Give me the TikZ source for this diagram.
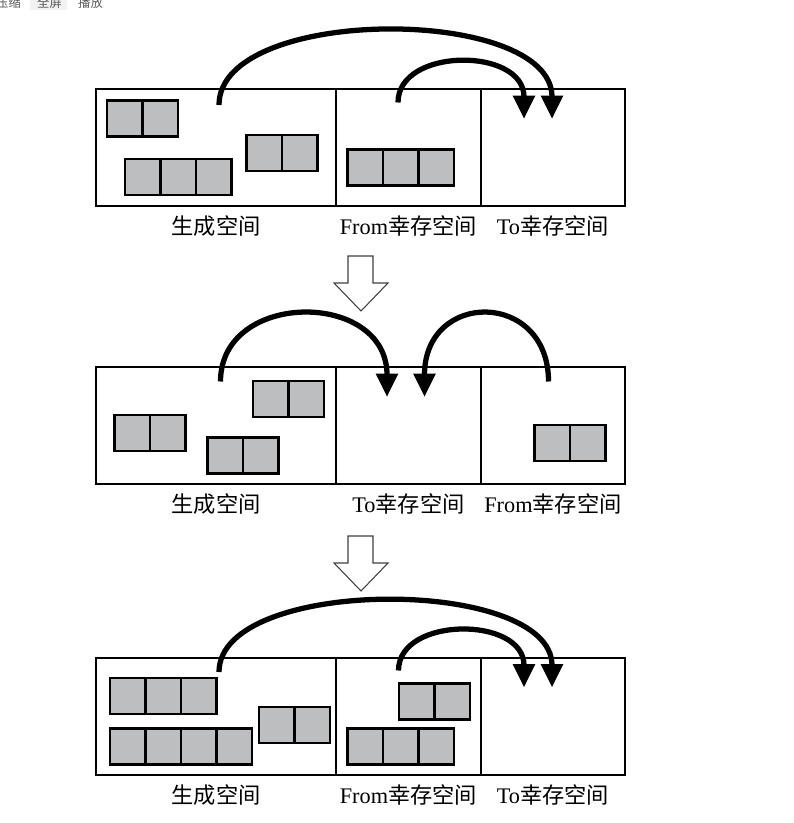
\documentclass[tikz,border=0pt]{standalone}
\usepackage{fontspec}
\setmainfont{Liberation Serif}
\newfontfamily\cjk{Noto Sans CJK SC}
\usetikzlibrary{arrows.meta,positioning}
\definecolor{cellgray}{RGB}{188,190,192}
\tikzset{
  space/.style={draw, line width=1.4pt, inner sep=0pt, minimum height=3.51cm},
  cell/.style={draw, fill=cellgray, line width=1.9pt},
  copy/.style={line width=4.5pt, -{Triangle[length=20pt,width=18pt]}},
  tag/.style={inner sep=0pt, font=\fontsize{19}{19}\selectfont},
  ui/.style={inner sep=0pt, text=black!65, font=\cjk\fontsize{10.5}{10.5}\selectfont},
  hollow/.style={draw=black!75, fill=white, line width=0.9pt, line join=miter},
}
\newcommand\zh[1]{{\cjk #1}}
% a row of #3 cells, top left corner at (#1,#2)
\newcommand\blk[3]{\foreach \i in {1,...,#3} \draw[cell] ({#1+(\i-1)*35.5},#2) rectangle ++(35.5,36);}

\begin{document}
\begin{tikzpicture}[x=0.03cm, y=-0.03cm]
    \useasboundingbox (0,0) rectangle (793,823);
    \clip (0,0) rectangle (793,823);

    % player buttons (cut off at the top)
    \fill[black!5] (30,-1) rectangle (67,10);
    \node[ui, anchor=west] (uizip) at (-4,2.5) {压缩};
    \node[ui, anchor=west] (uifull) at (37,2.5) {全屏};
    \node[ui, anchor=west] (uiplay) at (78,2.5) {播放};

    % Step 1
    \node[space, minimum width=7.2cm] (eden1) at (216,147.5) {};
    \node[space, minimum width=4.35cm] (from1) at (408.5,147.5) {};
    \node[space, minimum width=4.32cm] (to1) at (553,147.5) {};
    \node[tag, below=7pt of eden1] (eden1l) {\zh{生成空间}};
    \node[tag, below=7pt of from1] (from1l) {From\zh{幸存空间}};
    \node[tag, below=7pt of to1] (to1l) {To\zh{幸存空间}};

    \blk{107}{100.5}{2}
    \blk{125}{159}{3}
    \blk{246.5}{135}{2}
    \blk{347.5}{149.5}{3}

    \coordinate (eden1s) at (219,105);
    \coordinate (from1s) at (398,102.5);
    \coordinate (to1a) at (524,119);
    \coordinate (to1b) at (552,119);
    \draw[copy] (eden1s) .. controls (219,5) and (552,5) .. (to1b);
    \draw[copy] (from1s) .. controls (398,47) and (524,47) .. (to1a);

    % hollow arrow
    \draw[hollow] (348,256) -- (373,256) -- (373,283) -- (388,283) -- (361,311) -- (334,283) -- (348,283) -- cycle;

    % Step 2
    \node[space, minimum width=7.2cm] (eden2) at (216,425.5) {};
    \node[space, minimum width=4.35cm] (to2) at (408.5,425.5) {};
    \node[space, minimum width=4.32cm] (from2) at (553,425.5) {};
    \node[tag, below=7pt of eden2] (eden2l) {\zh{生成空间}};
    \node[tag, below=7pt of to2] (to2l) {To\zh{幸存空间}};
    \node[tag, below=7pt of from2] (from2l) {From\zh{幸存空间}};

    \blk{114.5}{415}{2}
    \blk{253}{381}{2}
    \blk{207.5}{437.5}{2}
    \blk{534.5}{425}{2}

    \coordinate (eden2s) at (220.5,381.5);
    \coordinate (from2s) at (548.5,381.5);
    \coordinate (to2a) at (387,397);
    \coordinate (to2b) at (424.5,397);
    \draw[copy] (eden2s) .. controls (220.5,290) and (387,290) .. (to2a);
    \draw[copy] (from2s) .. controls (548.5,290) and (424.5,290) .. (to2b);

    % hollow arrow
    \draw[hollow] (348,536) -- (373,536) -- (373,563) -- (388,563) -- (361,591) -- (334,563) -- (348,563) -- cycle;

    % Step 3
    \node[space, minimum width=7.2cm] (eden3) at (216,716.5) {};
    \node[space, minimum width=4.35cm] (from3) at (408.5,716.5) {};
    \node[space, minimum width=4.32cm] (to3) at (553,716.5) {};
    \node[tag, below=7pt of eden3] (eden3l) {\zh{生成空间}};
    \node[tag, below=7pt of from3] (from3l) {From\zh{幸存空间}};
    \node[tag, below=7pt of to3] (to3l) {To\zh{幸存空间}};

    \blk{110}{678}{3}
    \blk{110}{728.5}{4}
    \blk{259}{707}{2}
    \blk{399}{683.5}{2}
    \blk{347.5}{728.5}{3}

    \coordinate (eden3s) at (219,672);
    \coordinate (from3s) at (398.5,670.5);
    \coordinate (to3a) at (524,687.5);
    \coordinate (to3b) at (552,687.5);
    \draw[copy] (eden3s) .. controls (219,576) and (552,576) .. (to3b);
    \draw[copy] (from3s) .. controls (398.5,616) and (524,616) .. (to3a);
\end{tikzpicture}
\end{document}
